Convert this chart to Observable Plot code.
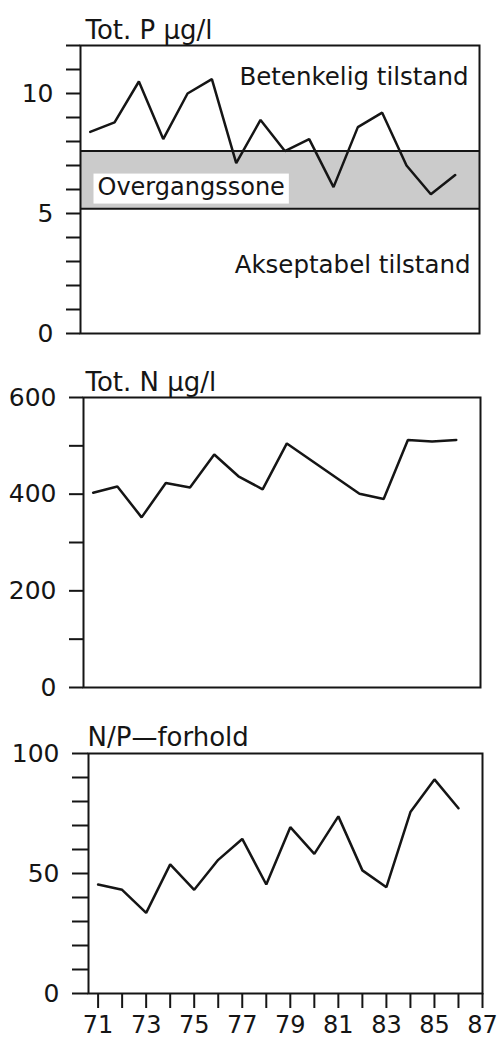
<!DOCTYPE html>
<html>
<head>
<meta charset="utf-8">
<script src="https://cdn.jsdelivr.net/npm/d3@7"></script>
<script src="https://cdn.jsdelivr.net/npm/@observablehq/plot@0.6"></script>
<style>
  body { margin: 0; background: #fff; }
  #chart { position: relative; width: 502px; height: 1039px; background: #fff; overflow: hidden; }
  #chart svg { position: absolute; left: 0; }
</style>
</head>
<body>
<div id="chart"></div>
<script>
// ---- data ----
const years = [71, 72, 73, 74, 75, 76, 77, 78, 79, 80, 81, 82, 83, 84, 85, 86];
const totP = [8.4, 8.8, 10.5, 8.1, 10.0, 10.6, 7.1, 8.9, 7.6, 8.1, 6.1, 8.6, 9.2, 7.0, 5.8, 6.6];
const yearsN = [71, 72, 73, 74, 75, 76, 77, 78, 79, 82, 83, 84, 85, 86];
const totN = [403, 416, 352, 423, 414, 482, 437, 410, 505, 401, 390, 512, 509, 512];
const npRatio = [45.4, 43.2, 33.6, 53.8, 43.2, 55.7, 64.4, 45.4, 69.3, 58.2, 73.8, 51.3, 44.3, 75.6, 89.2, 77.2];

const zoneBounds = [5.2, 7.6];          // Overgangssone (transition zone), µg/l
const zoneNames = ["Betenkelig tilstand", "Overgangssone", "Akseptabel tilstand"];
const panelTitles = ["Tot. P µg/l", "Tot. N µg/l", "N/P—forhold"];

const xDomain = [70.6, 87];
const xTicks = [71, 72, 73, 74, 75, 76, 77, 78, 79, 80, 81, 82, 83, 84, 85, 86, 87];
const xTickLabels = [71, 73, 75, 77, 79, 81, 83, 85, 87];

const pTicks = [0, 1, 2, 3, 4, 5, 6, 7, 8, 9, 10, 11, 12];
const pTickLabels = [0, 5, 10];
const nTicks = [0, 100, 200, 300, 400, 500, 600];
const nTickLabels = [0, 200, 400, 600];
const npTicks = [0, 10, 20, 30, 40, 50, 60, 70, 80, 90, 100];
const npTickLabels = [0, 50, 100];

// ---- helpers ----
const INK = "#151515";
const FONT = "DejaVu Sans";
const table = (xs, ys) => xs.map((x, i) => ({year: x, value: ys[i]}));

function panel(o) {
  const marks = [
    ...(o.under || []),
    Plot.axisY({
      ticks: o.yTicks,
      tickFormat: d => o.yLabels.includes(d) ? String(d) : "",
      tickSize: o.tickSize || 14, tickPadding: 13, stroke: INK, strokeWidth: 2,
      fill: INK, fontSize: 25, label: null
    }),
    Plot.frame({stroke: INK, strokeWidth: 2}),
    Plot.line(o.data, {x: "year", y: "value", stroke: INK, strokeWidth: 2.5, strokeLinejoin: "miter"}),
    Plot.text([o.title], {frameAnchor: "top-left", textAnchor: "start", dx: o.titleDx, dy: o.titleDy, fontSize: 26, fill: INK}),
    ...(o.over || [])
  ];
  if (o.xAxis) {
    marks.push(Plot.axisX({
      ticks: xTicks,
      tickFormat: d => xTickLabels.includes(d) ? String(d) : "",
      tickSize: 15, tickPadding: 7, stroke: INK, strokeWidth: 2,
      fill: INK, fontSize: 24, label: null
    }));
  }
  const svg = Plot.plot({
    width: 502, height: o.height,
    marginTop: o.mt, marginBottom: o.mb, marginLeft: o.ml, marginRight: o.mr,
    x: {domain: xDomain, axis: null},
    y: {domain: o.yDomain, axis: null},
    style: {fontFamily: FONT, fontSize: "24px", color: INK, background: "transparent", overflow: "visible"},
    marks
  });
  svg.style.top = o.top + "px";
  return svg;
}

const chart = document.getElementById("chart");

// Panel 1: Tot. P
const p1 = panel({
  top: 0, height: 350, mt: 45, mb: 17, ml: 80, mr: 23,
  yDomain: [0, 12], yTicks: pTicks, yLabels: pTickLabels,
  data: table(years, totP), title: panelTitles[0], titleDx: 5, titleDy: -25,
  under: [
    Plot.rect([zoneBounds], {y1: d => d[0], y2: d => d[1], fill: "#cbcbcb"}),
    Plot.ruleY(zoneBounds, {stroke: INK, strokeWidth: 2}),
    Plot.text([zoneNames[1]], {frameAnchor: "left", y: () => (zoneBounds[0] + zoneBounds[1]) / 2, dx: 17, dy: 7, textAnchor: "start", fontSize: 24, fill: INK})
  ],
  over: [
    Plot.text([zoneNames[0]], {frameAnchor: "top-right", textAnchor: "end", dx: -11, dy: 22, fontSize: 24.5, fill: INK}),
    Plot.text([zoneNames[2]], {frameAnchor: "bottom-right", textAnchor: "end", dx: -9, dy: -61, fontSize: 24.5, fill: INK})
  ]
});
chart.appendChild(p1);

// Panel 2: Tot. N
chart.appendChild(panel({
  top: 350, height: 355, mt: 47, mb: 18, ml: 83, mr: 22,
  yDomain: [0, 600], yTicks: nTicks, yLabels: nTickLabels,
  data: table(yearsN, totN), title: panelTitles[1], titleDx: 2, titleDy: -25
}));

// Panel 3: N/P ratio
chart.appendChild(panel({
  top: 705, height: 334, mt: 48, mb: 46, ml: 88, mr: 20,
  yDomain: [0, 100], yTicks: npTicks, yLabels: npTickLabels, tickSize: 16,
  data: table(years, npRatio), title: panelTitles[2], titleDx: -1, titleDy: -26,
  xAxis: true
}));

// White label box behind "Overgangssone"
(function () {
  const t = [...p1.querySelectorAll("text")].find(e => e.textContent === zoneNames[1]);
  if (!t) return;
  const sr = p1.getBoundingClientRect();
  const tr = t.getBoundingClientRect();
  let g = t;
  while (g.parentNode && g.parentNode !== p1) g = g.parentNode;
  const r = document.createElementNS("http://www.w3.org/2000/svg", "rect");
  r.setAttribute("x", tr.left - sr.left - 4);
  r.setAttribute("y", tr.top - sr.top + 1);
  r.setAttribute("width", tr.width + 8);
  r.setAttribute("height", tr.height + 2);
  r.setAttribute("fill", "#fff");
  p1.insertBefore(r, g);
})();
</script>
</body>
</html>
